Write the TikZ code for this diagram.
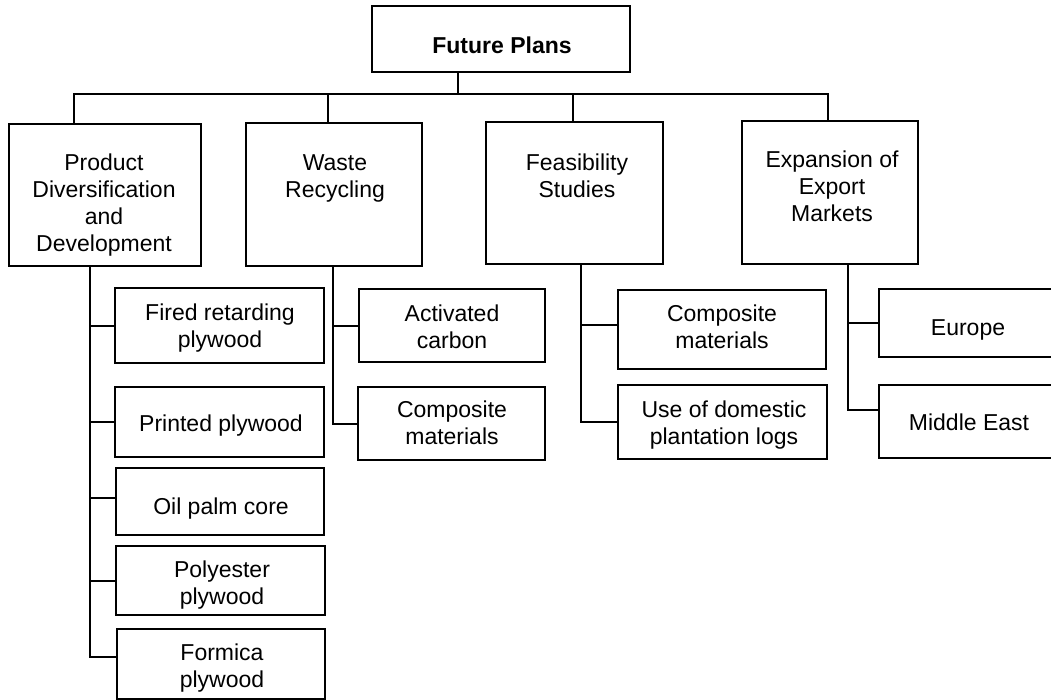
\documentclass[tikz,border=0pt]{standalone}
\usepackage{fontspec}
\setmainfont{Liberation Sans}
\usetikzlibrary{calc}
\newcommand{\fstrut}{\rule{0pt}{18pt}}
\begin{document}
\begin{tikzpicture}[x=1pt,y=-1pt,
  box/.style={draw, line width=2pt, inner sep=0pt, anchor=north west},
  txt/.style={font=\fontsize{23}{27}\selectfont, align=center, inner sep=0pt, anchor=north},
  conn/.style={draw, line width=2pt}]
\useasboundingbox (0,0) rectangle (1051,700);
\fill[white] (0,0) rectangle (1051,700);
\clip (0,0) rectangle (1051,700);

% boxes
\node[box, minimum width=258pt, minimum height=66pt] (fp) at (371,5) {};
\node[box, minimum width=192pt, minimum height=142pt] (prod) at (8,123) {};
\node[box, minimum width=176pt, minimum height=143pt] (waste) at (245,122) {};
\node[box, minimum width=177pt, minimum height=142pt] (feas) at (485,121) {};
\node[box, minimum width=176pt, minimum height=143pt] (exp) at (741,120) {};

\node[box, minimum width=209pt, minimum height=75pt] (fr) at (114,287) {};
\node[box, minimum width=209pt, minimum height=70pt] (pp) at (114,386) {};
\node[box, minimum width=208pt, minimum height=67pt] (op) at (115,467) {};
\node[box, minimum width=209pt, minimum height=69pt] (py) at (115,545) {};
\node[box, minimum width=208pt, minimum height=70pt] (fm) at (116,628) {};

\node[box, minimum width=186pt, minimum height=73pt] (ac) at (358,288) {};
\node[box, minimum width=187pt, minimum height=73pt] (wc) at (357,386) {};

\node[box, minimum width=208pt, minimum height=79pt] (fc) at (617,289) {};
\node[box, minimum width=209pt, minimum height=74pt] (ud) at (617,384) {};

\node[box, minimum width=200pt, minimum height=68pt] (eu) at (878,288) {};
\node[box, minimum width=200pt, minimum height=73pt] (me) at (878,384) {};

% texts
\node[txt, font=\bfseries\fontsize{23}{27}\selectfont] (tfp) at (502,35) {\fstrut Future Plans};
\node[txt] (tprod) at (104,152) {\fstrut Product\\Diversification\\and\\Development};
\node[txt] (twaste) at (335,152) {\fstrut Waste\\Recycling};
\node[txt] (tfeas) at (577,152) {\fstrut Feasibility\\Studies};
\node[txt] (texp) at (832,149) {\fstrut Expansion of\\Export\\Markets};

\node[txt] (tfr) at (220,302) {\fstrut Fired retarding\\plywood};
\node[txt] (tpp) at (221,413) {\fstrut Printed plywood};
\node[txt] (top) at (221,496) {\fstrut Oil palm core};
\node[txt] (tpy) at (222,559) {\fstrut Polyester\\plywood};
\node[txt] (tfm) at (222,642) {\fstrut Formica\\plywood};

\node[txt] (tac) at (452,303) {\fstrut Activated\\carbon};
\node[txt] (twc) at (452,399) {\fstrut Composite\\materials};

\node[txt] (tfc) at (722,303) {\fstrut Composite\\materials};
\node[txt] (tud) at (724,399) {\fstrut Use of domestic\\plantation logs};

\node[txt] (teu) at (968,317) {\fstrut Europe};
\node[txt] (tme) at (969,412) {\fstrut Middle East};

% level-1 connectors
\coordinate (hub) at (458,94);
\coordinate (d1) at (74,94);
\coordinate (d2) at (328,94);
\coordinate (d3) at (573,94);
\coordinate (d4) at (828,94);
\draw[conn] (fp.south -| hub) -- (hub);
\draw[conn] (prod.north -| d1) -- (d1) -- (d4) -- (exp.north -| d4);
\draw[conn] (d2) -- (waste.north -| d2);
\draw[conn] (d3) -- (feas.north -| d3);

% spines
\coordinate (s1) at (90,0);
\coordinate (s2) at (333,0);
\coordinate (s3) at (581,0);
\coordinate (s4) at (848,0);

\draw[conn] (prod.south -| s1) |- (fr.west);
\draw[conn] (prod.south -| s1) |- (pp.west);
\draw[conn] (prod.south -| s1) |- ($(op.west)+(0,-4)$);
\draw[conn] (prod.south -| s1) |- (py.west);
\draw[conn] (prod.south -| s1) |- ($(fm.west)+(0,-7)$);

\draw[conn] (waste.south -| s2) |- (ac.west);
\draw[conn] (waste.south -| s2) |- (wc.west);

\draw[conn] (feas.south -| s3) |- ($(fc.west)+(0,-5)$);
\draw[conn] (feas.south -| s3) |- (ud.west);

\draw[conn] (exp.south -| s4) |- (eu.west);
\draw[conn] (exp.south -| s4) |- ($(me.west)+(0,-12)$);
\end{tikzpicture}
\end{document}
